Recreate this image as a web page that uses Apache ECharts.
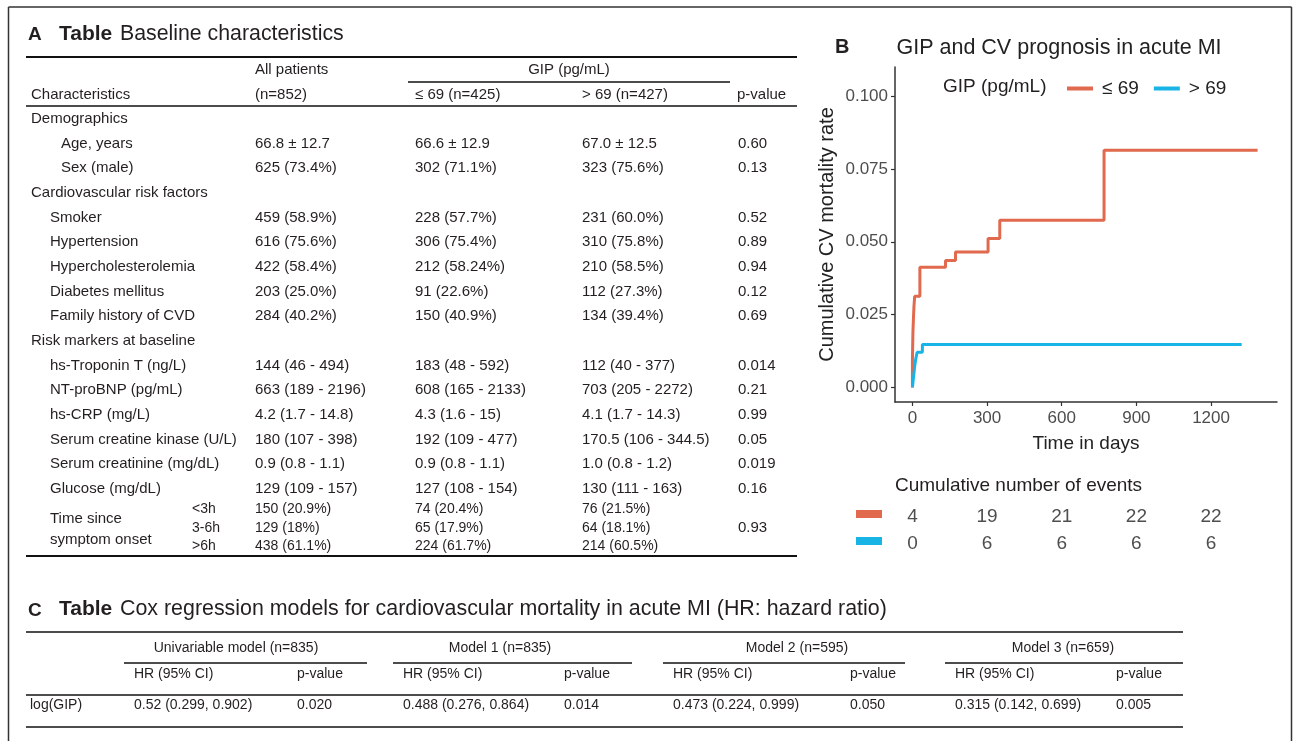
<!DOCTYPE html>
<html><head><meta charset="utf-8">
<script src="https://cdn.jsdelivr.net/npm/echarts@6/dist/echarts.min.js"></script>
<style>html,body{margin:0;padding:0;background:#fff}#c{width:1293px;height:741px}</style>
</head><body><div id="c"></div>
<script>
// ---- Data ----
// Kaplan-Meier style cumulative CV mortality, [day, rate]
const lowGipCurve = [[0,0],[0,0.0094],[1,0.0141],[2,0.0188],[4,0.0235],[6,0.0275],[9,0.0313],[30,0.0413],[133,0.0436],[173,0.0465],[304,0.0511],[351,0.0574],[770,0.0814],[1387,0.0814]];
const highGipCurve = [[0,0],[3,0.0024],[6,0.0048],[9,0.0072],[13,0.0096],[19,0.0121],[40,0.0147],[1323,0.0147]];
const seriesNames = ['\u2264 69', '> 69'];
const xTicks = [0, 300, 600, 900, 1200];
const yTicks = [0, 0.025, 0.05, 0.075, 0.1];
const riskTimes = [0, 300, 600, 900, 1200];
const lowGipEvents = [4, 19, 21, 22, 22];
const highGipEvents = [0, 6, 6, 6, 6];

const baselineHeader = ['Characteristics', 'All patients', '(n=852)', 'GIP (pg/mL)', '\u2264 69 (n=425)', '> 69 (n=427)', 'p-value'];
const baselineRows = [
 ['Demographics', 0, '', '', '', ''],
 ['Age, years', 2, '66.8 \u00b1 12.7', '66.6 \u00b1 12.9', '67.0 \u00b1 12.5', '0.60'],
 ['Sex (male)', 2, '625 (73.4%)', '302 (71.1%)', '323 (75.6%)', '0.13'],
 ['Cardiovascular risk factors', 0, '', '', '', ''],
 ['Smoker', 1, '459 (58.9%)', '228 (57.7%)', '231 (60.0%)', '0.52'],
 ['Hypertension', 1, '616 (75.6%)', '306 (75.4%)', '310 (75.8%)', '0.89'],
 ['Hypercholesterolemia', 1, '422 (58.4%)', '212 (58.24%)', '210 (58.5%)', '0.94'],
 ['Diabetes mellitus', 1, '203 (25.0%)', '91 (22.6%)', '112 (27.3%)', '0.12'],
 ['Family history of CVD', 1, '284 (40.2%)', '150 (40.9%)', '134 (39.4%)', '0.69'],
 ['Risk markers at baseline', 0, '', '', '', ''],
 ['hs-Troponin T (ng/L)', 1, '144 (46 - 494)', '183 (48 - 592)', '112 (40 - 377)', '0.014'],
 ['NT-proBNP (pg/mL)', 1, '663 (189 - 2196)', '608 (165 - 2133)', '703 (205 - 2272)', '0.21'],
 ['hs-CRP (mg/L)', 1, '4.2 (1.7 - 14.8)', '4.3 (1.6 - 15)', '4.1 (1.7 - 14.3)', '0.99'],
 ['Serum creatine kinase (U/L)', 1, '180 (107 - 398)', '192 (109 - 477)', '170.5 (106 - 344.5)', '0.05'],
 ['Serum creatinine (mg/dL)', 1, '0.9 (0.8 - 1.1)', '0.9 (0.8 - 1.1)', '1.0 (0.8 - 1.2)', '0.019'],
 ['Glucose (mg/dL)', 1, '129 (109 - 157)', '127 (108 - 154)', '130 (111 - 163)', '0.16']
];
const onsetLabel = ['Time since', 'symptom onset'];
const onsetRows = [
 ['<3h', '150 (20.9%)', '74 (20.4%)', '76 (21.5%)'],
 ['3-6h', '129 (18%)', '65 (17.9%)', '64 (18.1%)'],
 ['>6h', '438 (61.1%)', '224 (61.7%)', '214 (60.5%)']
];
const onsetP = '0.93';

const coxModels = ['Univariable model (n=835)', 'Model 1 (n=835)', 'Model 2 (n=595)', 'Model 3 (n=659)'];
const coxSubHeader = ['HR (95% CI)', 'p-value'];
const coxRowLabel = 'log(GIP)';
const coxHR = ['0.52 (0.299, 0.902)', '0.488 (0.276, 0.864)', '0.473 (0.224, 0.999)', '0.315 (0.142, 0.699)'];
const coxP = ['0.020', '0.014', '0.050', '0.005'];

// ---- Styling / layout ----
const RED = '#E0694E', BLUE = '#18B4E5', TXT = '#231f20';
const FF = '"Liberation Sans", Arial, sans-serif';
const G = [];
function txt(s, x, y, size, opt) {
  opt = opt || {};
  G.push({type:'text', silent:true, x:x, y:y, style:{text:s, font:(opt.bold?'bold ':'')+size+'px '+FF, fill:opt.fill||TXT, align:opt.align||'left', verticalAlign:'middle', textVerticalAlign:'middle'}});
}
function ln(x1, y1, x2, y2, w, c) {
  G.push({type:'line', silent:true, shape:{x1:x1,y1:y1,x2:x2,y2:y2}, style:{stroke:c||'#111', lineWidth:w||1.5}});
}
// outer frame
ln(8.5, 7, 1291.5, 7, 1.5, '#333'); ln(8.5, 7, 8.5, 741, 1.5, '#333'); ln(1291.5, 7, 1291.5, 741, 1.5, '#333');

// Table A
txt('A', 28, 35, 19, {bold:true});
txt('Table', 59, 34, 21, {bold:true});
txt('Baseline characteristics', 120, 34, 21.3);
ln(26, 57, 797, 57, 2);
txt(baselineHeader[1], 255, 70, 15);
txt(baselineHeader[3], 569, 70, 15, {align:'center'});
ln(408, 82, 730, 82, 1.5);
txt(baselineHeader[0], 31, 95, 15);
txt(baselineHeader[2], 255, 95, 15);
txt(baselineHeader[4], 415, 95, 15);
txt(baselineHeader[5], 582, 95, 15);
txt(baselineHeader[6], 737, 95, 15);
ln(26, 106, 797, 106, 1.5);
const indX = [31, 50, 61];
baselineRows.forEach(function (r, i) {
  const y = 119 + i * 24.65;
  txt(r[0], indX[r[1]], y, 15);
  if (r[2]) { txt(r[2], 255, y, 15); txt(r[3], 415, y, 15); txt(r[4], 582, y, 15); txt(r[5], 738, y, 15); }
});
txt(onsetLabel[0], 50, 519, 15); txt(onsetLabel[1], 50, 540, 15);
onsetRows.forEach(function (r, i) {
  const y = 509.5 + i * 18.5;
  txt(r[0], 192, y, 14); txt(r[1], 255, y, 14); txt(r[2], 415, y, 14); txt(r[3], 582, y, 14);
});
txt(onsetP, 738, 528, 15);
ln(26, 556, 797, 556, 2);

// Table C
txt('C', 28, 611, 19, {bold:true});
txt('Table', 59, 609, 21, {bold:true});
txt('Cox regression models for cardiovascular mortality in acute MI (HR: hazard ratio)', 120, 609, 21.4);
ln(26, 632, 1183, 632, 1.5);
const coxCenters = [236, 500, 797, 1063];
const coxLines = [[124, 367], [393, 632], [663, 905], [945, 1183]];
const coxHRx = [134, 403, 673, 955], coxPx = [297, 564, 850, 1116];
coxModels.forEach(function (m, i) {
  txt(m, coxCenters[i], 648, 14, {align:'center'});
  ln(coxLines[i][0], 663, coxLines[i][1], 663, 1.5);
  txt(coxSubHeader[0], coxHRx[i], 674, 14);
  txt(coxSubHeader[1], coxPx[i], 674, 14);
  txt(coxHR[i], coxHRx[i], 705, 14);
  txt(coxP[i], coxPx[i], 705, 14);
});
txt(coxRowLabel, 30, 705, 14);
ln(26, 695, 1183, 695, 1.5);
ln(26, 727, 1183, 727, 1.5);

// Panel B extras
txt('B', 835, 47, 20, {bold:true});
txt('GIP (pg/mL)', 943, 87, 19);
txt('Cumulative number of events', 895, 486, 19);
G.push({type:'rect', silent:true, shape:{x:856, y:510, width:26, height:8}, style:{fill:RED}});
G.push({type:'rect', silent:true, shape:{x:856, y:537, width:26, height:8}, style:{fill:BLUE}});

const riskData = [];
riskTimes.forEach(function (t, i) {
  riskData.push([t, seriesNames[0], lowGipEvents[i]]);
  riskData.push([t, seriesNames[1], highGipEvents[i]]);
});

const chart = echarts.init(document.getElementById('c'), null, {renderer:'canvas'});
chart.setOption({
  animation: false,
  backgroundColor: '#fff',
  textStyle: {fontFamily: FF},
  title: {text:'GIP and CV prognosis in acute MI', left:1054, textAlign:'center', top:32,
    textStyle:{fontSize:21.5, fontWeight:'normal', color:'#222', fontFamily:FF}},
  legend: {data: seriesNames, left: 1062, top: 74, icon: 'rect', itemWidth: 26, itemHeight: 4, itemGap: 15,
    textStyle: {fontSize: 19, color: '#222', fontFamily: FF, padding: [0, 0, 0, 4]}},
  grid: [
    {left: 895, right: 16, top: 67, bottom: 339, containLabel: false},
    {left: 895, right: 16, top: 503.5, height: 54, containLabel: false}
  ],
  xAxis: [
    {type:'value', gridIndex:0, min:-70, max:1465, name:'Time in days', nameLocation:'middle', nameGap:32,
     nameTextStyle:{fontSize:19, color:'#222', fontFamily:FF},
     axisLine:{show:true, onZero:false, lineStyle:{color:'#333', width:1.5}},
     axisTick:{show:true, length:4, customValues:xTicks, lineStyle:{color:'#333', width:1.2}},
     axisLabel:{customValues:xTicks, fontSize:17, color:'#4d4d4d', margin:8, fontFamily:FF,
       formatter:function (v) { return String(v); }},
     splitLine:{show:false}},
    {type:'value', gridIndex:1, min:-70, max:1465, show:false}
  ],
  yAxis: [
    {type:'value', gridIndex:0, min:-0.005, max:0.110, name:'Cumulative CV mortality rate', nameLocation:'middle', nameGap:58,
     nameTextStyle:{fontSize:20, color:'#222', fontFamily:FF},
     axisLine:{show:true, onZero:false, lineStyle:{color:'#333', width:1.5}},
     axisTick:{show:true, length:4, customValues:yTicks, lineStyle:{color:'#333', width:1.2}},
     axisLabel:{customValues:yTicks, fontSize:17, color:'#4d4d4d', margin:7, fontFamily:FF,
       formatter:function (v) { return v.toFixed(3); }},
     splitLine:{show:false}},
    {type:'category', gridIndex:1, data: seriesNames, inverse:true, show:false}
  ],
  series: [
    {name: seriesNames[0], type:'line', xAxisIndex:0, yAxisIndex:0, step:'end', showSymbol:false, symbol:'none',
     data: lowGipCurve, lineStyle:{color:RED, width:3}, itemStyle:{color:RED}},
    {name: seriesNames[1], type:'line', xAxisIndex:0, yAxisIndex:0, step:'end', showSymbol:false, symbol:'none',
     data: highGipCurve, lineStyle:{color:BLUE, width:3}, itemStyle:{color:BLUE}},
    {name: 'risk', type:'scatter', xAxisIndex:1, yAxisIndex:1, symbolSize:0, data: riskData,
     label:{show:true, position:'inside', formatter:function (p) { return p.value[2]; }, fontSize:19, color:'#222', fontFamily:FF}}
  ],
  graphic: G
});
</script></body></html>
